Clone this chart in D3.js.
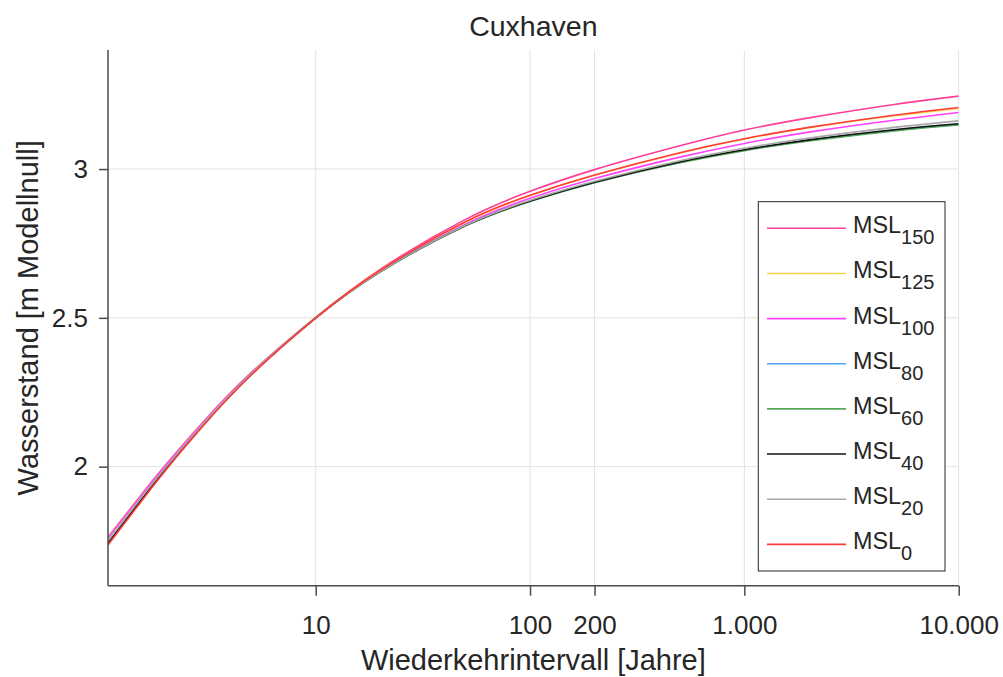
<!DOCTYPE html>
<html>
<head>
<meta charset="utf-8">
<script src="https://cdn.jsdelivr.net/npm/d3@7"></script>
<style>
  body { margin: 0; background: #fff; }
  svg { display: block; }
  text { font-family: "Liberation Sans", Arial, Helvetica, sans-serif; fill: #262626; }
</style>
</head>
<body>
<svg id="chart" width="1003" height="677"></svg>
<script>
// Return periods (years) at which the water levels are tabulated
const returnPeriods = [1.074, 1.5, 2, 3, 5, 10, 20, 50, 100, 200, 500, 1000, 2000, 5000, 10000];

// Water level [m Modellnull] per mean-sea-level scenario
const msl150 = [1.762, 1.895, 2.006, 2.151, 2.315, 2.501, 2.663, 2.831, 2.925, 2.998, 3.078, 3.131, 3.172, 3.217, 3.245];
const msl125 = [1.765, 1.898, 2.008, 2.153, 2.317, 2.502, 2.660, 2.822, 2.911, 2.979, 3.054, 3.101, 3.139, 3.179, 3.204];
const msl100 = [1.762, 1.895, 2.006, 2.151, 2.315, 2.501, 2.657, 2.815, 2.902, 2.968, 3.040, 3.086, 3.124, 3.164, 3.190];
const msl80  = [1.743, 1.879, 1.993, 2.142, 2.310, 2.500, 2.655, 2.810, 2.892, 2.955, 3.022, 3.063, 3.096, 3.130, 3.150];
const msl60  = [1.741, 1.878, 1.992, 2.141, 2.309, 2.500, 2.655, 2.809, 2.891, 2.954, 3.021, 3.062, 3.094, 3.128, 3.148];
const msl40  = [1.742, 1.879, 1.993, 2.142, 2.310, 2.500, 2.655, 2.810, 2.893, 2.956, 3.024, 3.065, 3.098, 3.132, 3.152];
const msl20  = [1.752, 1.887, 1.999, 2.146, 2.312, 2.500, 2.655, 2.811, 2.895, 2.959, 3.028, 3.070, 3.104, 3.140, 3.162];
const msl0   = [1.737, 1.874, 1.989, 2.139, 2.308, 2.499, 2.660, 2.823, 2.912, 2.980, 3.055, 3.102, 3.140, 3.181, 3.207];

// Legend subscripts, in drawing order
const seriesSubscripts = ["150", "125", "100", "80", "60", "40", "20", "0"];
const seriesValues = [msl150, msl125, msl100, msl80, msl60, msl40, msl20, msl0];
const seriesColors = ["#ff3d9a", "#f7d44c", "#ff40ff", "#4da3ff", "#55a855", "#111111", "#a8a8a8", "#ff3c3c"];

const xTickValues = [10, 100, 200, 1000, 10000];
const xTickLabels = ["10", "100", "200", "1.000", "10.000"];
const yTickValues = [2, 2.5, 3];
const yTickLabels = ["2", "2.5", "3"];

const titleText = "Cuxhaven";
const xLabelText = "Wiederkehrintervall [Jahre]";
const yLabelText = "Wasserstand [m Modellnull]";

// Layout
const plot = { left: 108, right: 958.7, top: 50, bottom: 585.7 };
const svg = d3.select("#chart");

const x = d3.scaleLog().domain([1.074, 10000]).range([plot.left, plot.right]);
const y = d3.scaleLinear().domain([1.6, 3.4]).range([plot.bottom, plot.top]);

// Grid
const grid = svg.append("g").attr("stroke", "#e3e3e3").attr("stroke-width", 1);
grid.selectAll("line.vx").data(xTickValues).join("line")
  .attr("x1", d => x(d)).attr("x2", d => x(d))
  .attr("y1", plot.top).attr("y2", plot.bottom);
grid.selectAll("line.hy").data(yTickValues).join("line")
  .attr("x1", plot.left).attr("x2", plot.right)
  .attr("y1", d => y(d)).attr("y2", d => y(d));

// Curves
svg.append("clipPath").attr("id", "plot-clip").append("rect")
  .attr("x", plot.left).attr("y", plot.top)
  .attr("width", plot.right - plot.left).attr("height", plot.bottom - plot.top);

const line = d3.line()
  .x((d, i) => x(returnPeriods[i]))
  .y(d => y(d))
  .curve(d3.curveNatural);

svg.append("g").attr("clip-path", "url(#plot-clip)")
  .selectAll("path").data(seriesValues).join("path")
  .attr("d", d => line(d))
  .attr("fill", "none")
  .attr("stroke", (d, i) => seriesColors[i])
  .attr("stroke-width", 1.6);

// Axes
const xAxis = d3.axisBottom(x)
  .tickValues(xTickValues)
  .tickFormat((d, i) => xTickLabels[i])
  .tickSize(10).tickSizeOuter(0).tickPadding(20);
const yAxis = d3.axisLeft(y)
  .tickValues(yTickValues)
  .tickFormat((d, i) => yTickLabels[i])
  .tickSize(9).tickSizeOuter(0).tickPadding(11);

const gx = svg.append("g").attr("transform", `translate(0,${plot.bottom})`).call(xAxis);
const gy = svg.append("g").attr("transform", `translate(${plot.left},0)`).call(yAxis);
[gx, gy].forEach(g => {
  g.select(".domain").remove();
  g.selectAll(".tick line").attr("stroke", "#4a4a4a").attr("stroke-width", 1.5);
  g.selectAll(".tick text").attr("font-size", 26).attr("fill", "#262626")
    .style("font-family", '"Liberation Sans", Arial, sans-serif');
});

// Axis lines (left and bottom only)
svg.append("line").attr("x1", plot.left).attr("x2", plot.left)
  .attr("y1", plot.top).attr("y2", plot.bottom)
  .attr("stroke", "#4a4a4a").attr("stroke-width", 1.5);
svg.append("line").attr("x1", plot.left).attr("x2", plot.right)
  .attr("y1", plot.bottom).attr("y2", plot.bottom)
  .attr("stroke", "#4a4a4a").attr("stroke-width", 1.5);

// Title and axis labels
svg.append("text").attr("x", (plot.left + plot.right) / 2).attr("y", 36)
  .attr("text-anchor", "middle").attr("font-size", 28.5).text(titleText);
svg.append("text").attr("x", (plot.left + plot.right) / 2).attr("y", 670)
  .attr("text-anchor", "middle").attr("font-size", 29).text(xLabelText);
svg.append("text")
  .attr("transform", `translate(38,${(plot.top + plot.bottom) / 2}) rotate(-90)`)
  .attr("text-anchor", "middle").attr("font-size", 29).text(yLabelText);

// Legend
const legend = { left: 758.3, top: 201.7, right: 945, bottom: 571, firstRow: 228.3, rowStep: 45.15 };
const lg = svg.append("g");
lg.append("rect")
  .attr("x", legend.left).attr("y", legend.top)
  .attr("width", legend.right - legend.left).attr("height", legend.bottom - legend.top)
  .attr("fill", "#fff").attr("stroke", "#262626").attr("stroke-width", 1);

const rows = lg.selectAll("g.row").data(seriesSubscripts).join("g")
  .attr("class", "row")
  .attr("transform", (d, i) => `translate(0,${legend.firstRow + i * legend.rowStep})`);
rows.append("line")
  .attr("x1", 767).attr("x2", 846).attr("y1", 0).attr("y2", 0)
  .attr("stroke", (d, i) => seriesColors[i]).attr("stroke-width", 1.6);
const labels = rows.append("text").attr("x", 853).attr("y", 5).attr("font-size", 23.4);
labels.append("tspan").text("MSL");
labels.append("tspan").attr("font-size", 20).attr("dy", 11).text(d => d);
</script>
</body>
</html>
